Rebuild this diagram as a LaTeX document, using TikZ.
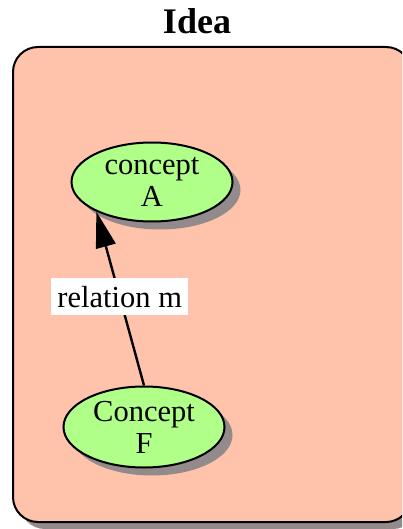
\documentclass[tikz,border=0pt]{standalone}
\usepackage{fontspec}
\setmainfont{Liberation Serif}
\usetikzlibrary{shapes.geometric,shadows,arrows.meta}
\definecolor{boxfill}{HTML}{FFC2AA}
\definecolor{nodefill}{HTML}{B0FF88}
\definecolor{shgray}{HTML}{938B8B}
\tikzset{
  concept/.style={ellipse, draw=black, line width=2pt, fill=nodefill,
    minimum width=161pt, minimum height=79pt, inner sep=0pt, align=center,
    font=\fontsize{30.5}{32}\selectfont,
    drop shadow={shadow xshift=8pt, shadow yshift=-8pt, fill=shgray, opacity=1}},
  rel/.style={line width=2.4pt, -{Triangle[length=36pt,width=20pt]}},
  rellabel/.style={fill=white, inner xsep=6pt, minimum height=37pt,
    font=\fontsize{30.5}{32}\selectfont},
  container/.style={draw=black, line width=2pt, fill=boxfill, rounded corners=25pt},
}
\begin{document}
\begin{tikzpicture}[x=1pt,y=-1pt]
\useasboundingbox (0,0) rectangle (402,529);
\begin{scope}
\clip (0,0) rectangle (402,529);
\fill[shgray, rounded corners=25pt] (20,54) rectangle (418,529);
\draw[container] (13,47) rectangle (411,522);
\end{scope}
\node[font=\bfseries\fontsize{36}{40}\selectfont] (title) at (197,21) {Idea};
\node[concept] (A) at (152,182) {concept\\A};
\node[concept, minimum height=81pt] (F) at (144,427) {Concept\\F};
\draw[rel] (F.north) -- node[rellabel, pos=0.51] (lbl) {relation m} (A.208);
\end{tikzpicture}
\end{document}
